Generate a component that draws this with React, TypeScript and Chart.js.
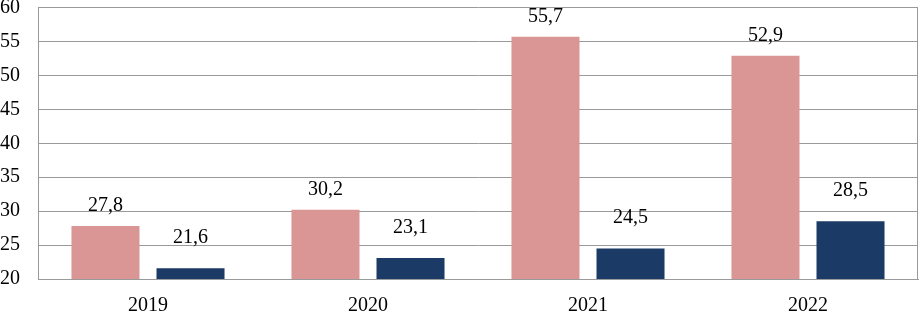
import React, { useEffect, useRef } from "react";
import { Chart, registerables } from "chart.js";

Chart.register(...registerables);

const categories = ["2019", "2020", "2021", "2022"];
const seriesA = [27.8, 30.2, 55.7, 52.9];
const seriesB = [21.6, 23.1, 24.5, 28.5];
const yTicks = [20, 25, 30, 35, 40, 45, 50, 55, 60];

const FONT = "'Liberation Serif', 'Times New Roman', serif";
const GRID = "#9a9a9a";
const CLEAR = "rgba(0,0,0,0)";

const labelPlugin = {
  id: "barLabels",
  afterDatasetsDraw(chart: any) {
    const ctx = chart.ctx;
    ctx.save();
    ctx.font = `20px ${FONT}`;
    ctx.fillStyle = "#000";
    ctx.textAlign = "center";
    ctx.textBaseline = "alphabetic";
    chart.data.datasets.forEach((ds: any, di: number) => {
      const meta = chart.getDatasetMeta(di);
      const off = ds.labelGap ?? 15;
      meta.data.forEach((el: any, i: number) => {
        const v = ds.data[i] as number;
        ctx.fillText(v.toFixed(1).replace(".", ","), el.x, el.y - off);
      });
    });
    ctx.restore();
  },
};

const borderPlugin = {
  id: "rightBorder",
  afterDraw(chart: any) {
    const { ctx, chartArea } = chart;
    ctx.save();
    ctx.strokeStyle = GRID;
    ctx.lineWidth = 1;
    ctx.beginPath();
    const x = Math.round(chartArea.right) - 0.5;
    ctx.moveTo(x, chartArea.top);
    ctx.lineTo(x, chartArea.bottom);
    ctx.stroke();
    ctx.restore();
  },
};

export default function App() {
  const ref = useRef<HTMLCanvasElement>(null);
  useEffect(() => {
    if (!ref.current) return;
    const chart = new Chart(ref.current, {
      type: "bar",
      data: {
        labels: categories,
        datasets: [
          {
            label: "A",
            data: seriesA,
            backgroundColor: "#D99694",
            barPercentage: 0.8,
            categoryPercentage: 0.773,
            labelGap: 15,
          } as any,
          {
            label: "B",
            data: seriesB,
            backgroundColor: "#1B3A65",
            barPercentage: 0.8,
            categoryPercentage: 0.773,
            labelGap: 25,
          } as any,
        ],
      },
      options: {
        animation: false,
        responsive: false,
        layout: { padding: { top: 0, right: 2, left: 0, bottom: 0 } },
        plugins: { legend: { display: false }, tooltip: { enabled: false } },
        scales: {
          x: {
            grid: { display: false, drawTicks: true, tickLength: 20, tickColor: CLEAR },
            border: { display: true, color: GRID, width: 1 },
            ticks: {
              padding: 0,
              color: "#000",
              font: { family: FONT, size: 20, lineHeight: 0.65 },
            },
          },
          y: {
            min: 20,
            max: 60,
            afterBuildTicks: (scale: any) => {
              scale.ticks = yTicks.map((v) => ({ value: v }));
            },
            grid: { color: GRID, lineWidth: 1, drawTicks: true, tickLength: 18, tickColor: CLEAR },
            border: { display: true, color: GRID, width: 1 },
            ticks: {
              padding: 0,
              color: "#000",
              font: { family: FONT, size: 20, lineHeight: 0.75 },
            },
          },
        },
      },
      plugins: [labelPlugin, borderPlugin],
    });
    return () => chart.destroy();
  }, []);
  return (
    <div style={{ position: "absolute", left: 0, top: 0, width: 920, height: 312, background: "#fff" }}>
      <canvas ref={ref} width={920} height={312} />
    </div>
  );
}
